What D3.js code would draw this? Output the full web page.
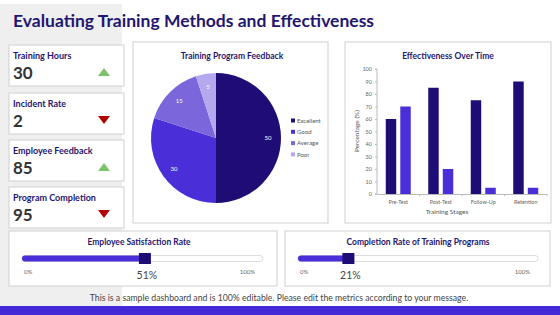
<!DOCTYPE html>
<html>
<head>
<meta charset="utf-8">
<script src="https://cdn.jsdelivr.net/npm/d3@7"></script>
<style>
  body { margin: 0; background: #fff; }
  svg { display: block; font-family: Lato, "Open Sans", sans-serif; }
</style>
</head>
<body>
<script>
// KPI cards
var kpiLabels = ['Training Hours', 'Incident Rate', 'Employee Feedback', 'Program Completion'];
var kpiValues = [30, 2, 85, 95];
var kpiTrend = ['up', 'down', 'up', 'down'];

// Pie data
var feedbackLabels = ['Excellent', 'Good', 'Average', 'Poor'];
var feedbackValues = [50, 30, 15, 5];

// Bar data
var stages = ['Pre-Test', 'Post-Test', 'Follow-Up', 'Retention'];
var seriesA = [60, 85, 75, 90];
var seriesB = [70, 20, 5, 5];
var yTicks = [0, 10, 20, 30, 40, 50, 60, 70, 80, 90, 100];

// Sliders
var sliderTitles = ['Employee Satisfaction Rate', 'Completion Rate of Training Programs'];
var sliderValues = [51, 21];

var w = 560, h = 315;
var navy = '#1f0c75', purple = '#4a2ed8', lavender = '#7b66dc', pale = '#b5a8ef';
var titleColor = '#1f1670';

var svg = d3.select('body').append('svg')
  .attr('width', w)
  .attr('height', h);

// left grey strip + bottom band
svg.append('rect').attr('x', 0).attr('y', 4).attr('width', 122).attr('height', 302).attr('fill', '#efefef');
svg.append('rect').attr('x', 0).attr('y', 306).attr('width', w).attr('height', 9).attr('fill', '#4429d6');

svg.append('text')
  .attr('x', 13).attr('y', 27)
  .attr('fill', titleColor)
  .attr('font-size', 17.5)
  .attr('font-weight', 'bold')
  .text('Evaluating Training Methods and Effectiveness');

// ---- KPI cards
var cardY = [45, 93, 140, 187];
var cards = svg.selectAll('g.card')
  .data(kpiLabels)
  .enter().append('g')
  .attr('class', 'card')
  .attr('transform', function(d, i) { return 'translate(9,' + cardY[i] + ')'; });

cards.append('rect')
  .attr('width', 115).attr('height', 41)
  .attr('fill', '#fff').attr('stroke', '#cfcfcf');

cards.append('text')
  .attr('x', 4).attr('y', 14)
  .attr('fill', titleColor)
  .attr('font-size', 9)
  .attr('font-weight', 'bold')
  .text(function(d) { return d; });

cards.append('text')
  .attr('x', 4).attr('y', 34)
  .attr('fill', '#333')
  .attr('font-size', 17)
  .attr('font-weight', 'bold')
  .text(function(d, i) { return kpiValues[i]; });

cards.append('path')
  .attr('d', function(d, i) {
    return kpiTrend[i] === 'up'
      ? 'M89,31 L101,31 L95,23 Z'
      : 'M89,23 L101,23 L95,31 Z';
  })
  .attr('fill', function(d, i) { return kpiTrend[i] === 'up' ? '#7cc46a' : '#b00000'; });

// ---- Pie panel
var pieG = svg.append('g');
pieG.append('rect')
  .attr('x', 133).attr('y', 42).attr('width', 195).attr('height', 181)
  .attr('fill', '#fff').attr('stroke', '#cfcfcf');
pieG.append('text')
  .attr('x', 232).attr('y', 59)
  .attr('text-anchor', 'middle')
  .attr('fill', titleColor)
  .attr('font-size', 8.5)
  .attr('font-weight', 'bold')
  .text('Training Program Feedback');

var pieColor = d3.scaleOrdinal().domain(feedbackLabels).range([navy, purple, lavender, pale]);
var pie = d3.pie().sort(null)(feedbackValues);
var r = 65;
var arc = d3.arc().innerRadius(0).outerRadius(r);
var labelArc = d3.arc().innerRadius(r * 0.8).outerRadius(r * 0.8);

var pieBody = pieG.append('g').attr('transform', 'translate(216,138)');
pieBody.selectAll('path')
  .data(pie)
  .enter().append('path')
  .attr('d', arc)
  .attr('fill', function(d, i) { return pieColor(feedbackLabels[i]); });

pieBody.selectAll('text')
  .data(pie)
  .enter().append('text')
  .attr('transform', function(d) { return 'translate(' + labelArc.centroid(d) + ')'; })
  .attr('text-anchor', 'middle')
  .attr('dy', '0.35em')
  .attr('fill', '#fff')
  .attr('font-size', 6)
  .text(function(d) { return d.data; });

var legend = pieG.selectAll('g.leg')
  .data(feedbackLabels)
  .enter().append('g')
  .attr('transform', function(d, i) { return 'translate(291,' + (121 + i * 11.3) + ')'; });
legend.append('rect')
  .attr('x', 0).attr('y', -2.5).attr('width', 4).attr('height', 4)
  .attr('fill', function(d) { return pieColor(d); });
legend.append('text')
  .attr('x', 6).attr('y', 0).attr('dy', '0.3em')
  .attr('fill', '#555')
  .attr('font-size', 6)
  .text(function(d) { return d; });

// ---- Bar panel
var barG = svg.append('g');
barG.append('rect')
  .attr('x', 345).attr('y', 42).attr('width', 206).attr('height', 181)
  .attr('fill', '#fff').attr('stroke', '#cfcfcf');
barG.append('text')
  .attr('x', 448).attr('y', 59)
  .attr('text-anchor', 'middle')
  .attr('fill', titleColor)
  .attr('font-size', 8.5)
  .attr('font-weight', 'bold')
  .text('Effectiveness Over Time');

var xScale = d3.scaleBand().domain(stages).range([377, 547]);
var inner = d3.scaleBand().domain(['a', 'b']).range([0, 25]).paddingInner(0.28);
var yScale = d3.scaleLinear().domain([0, 100]).range([194, 69]);

var yAxis = d3.axisLeft(yScale).tickValues(yTicks).tickSize(2).tickPadding(3);
var gy = barG.append('g')
  .attr('transform', 'translate(377,0)')
  .call(yAxis);
gy.selectAll('text').attr('font-size', 5.5).attr('fill', '#666').attr('font-family', 'Lato, sans-serif');
gy.selectAll('line, path').attr('stroke', '#bbb');
gy.select('.domain').attr('d', 'M-2,69H0V194H-2');

var xAxis = d3.axisBottom(xScale).tickSize(0).tickPadding(6);
var gx = barG.append('g')
  .attr('transform', 'translate(0,194)')
  .call(xAxis);
gx.selectAll('text').attr('font-size', 5.5).attr('fill', '#666').attr('font-family', 'Lato, sans-serif');
gx.select('.domain').attr('stroke', '#bbb');
// ticks at the band edges
gx.selectAll('line.edge')
  .data(stages)
  .enter().append('line')
  .attr('class', 'edge')
  .attr('x1', function(d) { return xScale(d) + xScale.bandwidth(); })
  .attr('x2', function(d) { return xScale(d) + xScale.bandwidth(); })
  .attr('y1', 0).attr('y2', 2)
  .attr('stroke', '#bbb');

var groups = barG.selectAll('g.stage')
  .data(stages)
  .enter().append('g')
  .attr('transform', function(d) { return 'translate(' + (xScale(d) + (xScale.bandwidth() - 25) / 2) + ',0)'; });

groups.append('rect')
  .attr('x', inner('a'))
  .attr('y', function(d, i) { return yScale(seriesA[i]); })
  .attr('width', inner.bandwidth())
  .attr('height', function(d, i) { return yScale(0) - yScale(seriesA[i]); })
  .attr('fill', navy);

groups.append('rect')
  .attr('x', inner('b'))
  .attr('y', function(d, i) { return yScale(seriesB[i]); })
  .attr('width', inner.bandwidth())
  .attr('height', function(d, i) { return yScale(0) - yScale(seriesB[i]); })
  .attr('fill', purple);

barG.append('text')
  .attr('transform', 'translate(359,131) rotate(-90)')
  .attr('text-anchor', 'middle')
  .attr('fill', '#555')
  .attr('font-size', 6.5)
  .text('Percentage (%)');

barG.append('text')
  .attr('x', 447).attr('y', 214)
  .attr('text-anchor', 'middle')
  .attr('fill', '#555')
  .attr('font-size', 6.5)
  .text('Training Stages');

// ---- Sliders
var sliderBox = [
  { x: 9, w: 268, tx: 22, tw: 241, title: 139 },
  { x: 285, w: 265, tx: 298, tw: 240, title: 418 }
];
sliderBox.forEach(function(b, i) {
  var g = svg.append('g');
  g.append('rect')
    .attr('x', b.x).attr('y', 231).attr('width', b.w).attr('height', 55)
    .attr('fill', '#fff').attr('stroke', '#cfcfcf');
  g.append('text')
    .attr('x', b.title).attr('y', 245)
    .attr('text-anchor', 'middle')
    .attr('fill', titleColor)
    .attr('font-size', 8.5)
    .attr('font-weight', 'bold')
    .text(sliderTitles[i]);

  var s = d3.scaleLinear().domain([0, 100]).range([b.tx, b.tx + b.tw]);
  g.append('rect')
    .attr('x', s(0)).attr('y', 255.5).attr('width', s(100) - s(0)).attr('height', 6)
    .attr('rx', 3)
    .attr('fill', '#fff').attr('stroke', '#cfcfcf').attr('stroke-width', 0.7);
  g.append('rect')
    .attr('x', s(0)).attr('y', 255.5).attr('width', s(sliderValues[i]) - s(0)).attr('height', 6)
    .attr('rx', 3)
    .attr('fill', purple);
  g.append('rect')
    .attr('x', s(sliderValues[i]) - 6).attr('y', 253).attr('width', 12).attr('height', 11)
    .attr('fill', navy);

  g.append('text')
    .attr('x', s(0) + 2).attr('y', 274)
    .attr('fill', '#666').attr('font-size', 6)
    .text('0%');
  g.append('text')
    .attr('x', s(100) - 8).attr('y', 274)
    .attr('text-anchor', 'end')
    .attr('fill', '#666').attr('font-size', 6)
    .text('100%');
  g.append('text')
    .attr('x', s(sliderValues[i]) + 2).attr('y', 279)
    .attr('text-anchor', 'middle')
    .attr('fill', '#444').attr('font-size', 10.5)
    .text(sliderValues[i] + '%');
});

svg.append('text')
  .attr('x', 279).attr('y', 301)
  .attr('text-anchor', 'middle')
  .attr('fill', '#444')
  .attr('font-size', 8.7)
  .text('This is a sample dashboard and is 100% editable. Please edit the metrics according to your message.');
</script>
</body>
</html>
